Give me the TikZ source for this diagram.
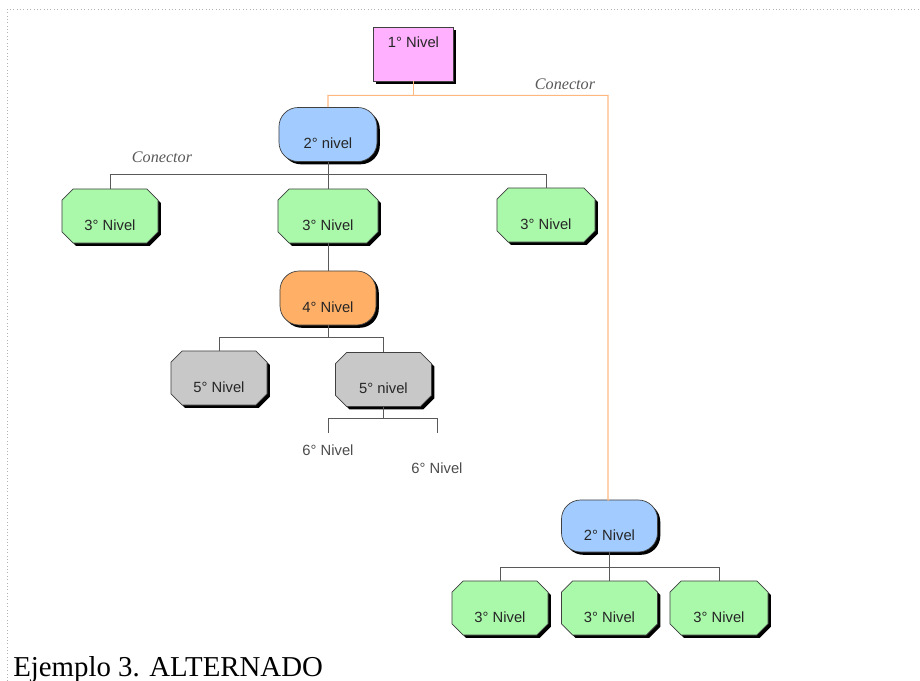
\documentclass[tikz,border=0pt]{standalone}
\usepackage{fontspec}
\setmainfont{Liberation Serif}
\setsansfont{Liberation Sans}
\usetikzlibrary{shapes.misc,shadows}
\definecolor{rosa}{HTML}{FFB0FF}
\definecolor{azul}{HTML}{A2CCFF}
\definecolor{verde}{HTML}{AAF8AA}
\definecolor{naranja}{HTML}{FFB066}
\definecolor{gris}{HTML}{C8C8C8}
\definecolor{linea}{HTML}{FFB880}

\begin{document}
\begin{tikzpicture}[x=0.025cm, y=-0.025cm, font=\sffamily\fontsize{10.5}{12}\selectfont,
	caja/.style={draw=black!75, line width=0.5pt, inner sep=0pt, text=black!85,
		minimum width=2.4cm, minimum height=1.35cm, text height=0.7cm, text depth=0pt,
		drop shadow={shadow xshift=0.07cm, shadow yshift=-0.07cm, fill=black, opacity=1}},
	redondo/.style={caja, rounded corners=0.48cm},
	octo/.style={caja, chamfered rectangle, chamfered rectangle xsep=0.17cm},
	conn/.style={draw=black!65, line width=0.6pt},
	conn1/.style={draw=linea, line width=0.8pt},
	etiq/.style={font=\rmfamily\itshape\fontsize{11.5}{13}\selectfont, text=black!65}]
	\useasboundingbox (0,0) rectangle (920,681);
	\draw[black!30, dotted] (7,681) -- (7,9) -- (920,9);
	% primer nivel
	\node[caja, fill=rosa, minimum width=2cm, text height=0.25cm, text depth=0.55cm] (n1) at (413.5,54) {1° Nivel};
	% rama izquierda
	\node[redondo, fill=azul, minimum width=2.45cm] (n2a) at (328,134.5) {2° nivel};
	\node[octo, fill=verde] (n3a) at (110,216) {3° Nivel};
	\node[octo, fill=verde, minimum width=2.5cm] (n3b) at (328,216) {3° Nivel};
	\node[octo, fill=verde, minimum width=2.45cm] (n3c) at (546,215) {3° Nivel};
	\node[redondo, fill=naranja] (n4) at (328,298) {4° Nivel};
	\node[octo, fill=gris] (n5a) at (219,378) {5° Nivel};
	\node[octo, fill=gris] (n5b) at (383.5,379.5) {5° nivel};
	\node[text=black!70] (n6a) at (328,450) {6° Nivel};
	\node[text=black!70] (n6b) at (437,468) {6° Nivel};
	% rama derecha
	\node[redondo, fill=azul, minimum height=1.3cm] (n2b) at (609.5,526) {2° Nivel};
	\node[octo, fill=verde] (n3d) at (500,608) {3° Nivel};
	\node[octo, fill=verde] (n3e) at (609.5,608) {3° Nivel};
	\node[octo, fill=verde, minimum width=2.45cm] (n3f) at (719,608) {3° Nivel};
	% etiquetas
	\node[etiq] (c1) at (565,84) {Conector};
	\node[etiq] (c2) at (162,157) {Conector};
	% conectores
	\draw[conn1] (n1.south) -- ++(0,14) coordinate (j1);
	\draw[conn1] (n2a.north) |- (j1) -| (608,500) coordinate (j1b) -- (n2b.north);
	\draw[conn] (n2a.south) -- ++(0,13) coordinate (j2);
	\draw[conn] (n3a.north) |- (j2) -| (n3c.north);
	\draw[conn] (j2) -- (n3b.north);
	\draw[conn] (n3b.south) -- (n4.north);
	\draw[conn] (n4.south) -- ++(0,12) coordinate (j4);
	\draw[conn] (n5a.north) |- (j4) -| (n5b.north);
	\draw[conn] (n5b.south) -- ++(0,12) coordinate (j5);
	\coordinate (e6a) at (328,433);
	\coordinate (e6b) at (437,433);
	\draw[conn] (e6a) |- (j5) -| (e6b);
	\draw[conn] (n2b.south) -- ++(0,15) coordinate (j6);
	\draw[conn] (n3d.north) |- (j6) -| (n3f.north);
	\draw[conn] (j6) -- (n3e.north);
	% pie
	\node[anchor=base west, inner sep=0pt, font=\rmfamily\fontsize{20.5}{24}\selectfont] (pie) at (13,676) {Ejemplo 3. ALTERNADO};
\end{tikzpicture}
\end{document}
